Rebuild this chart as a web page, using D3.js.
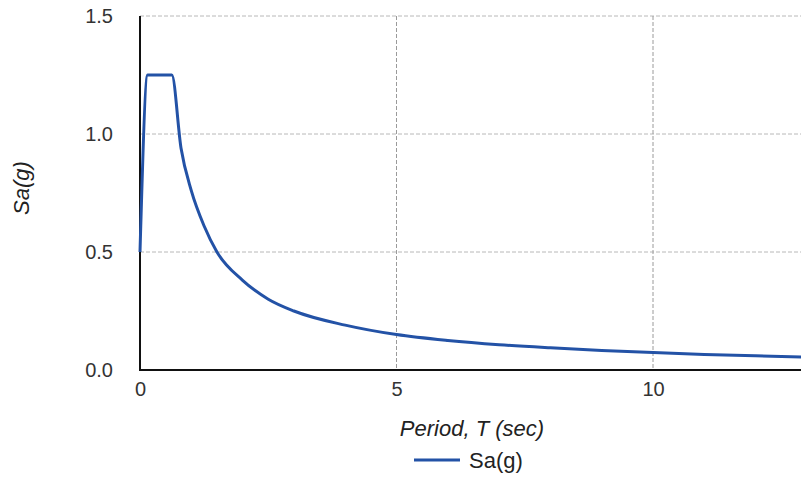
<!DOCTYPE html>
<html>
<head>
<meta charset="utf-8">
<script src="https://cdn.jsdelivr.net/npm/d3@7"></script>
<style>
  body { margin: 0; background: #fff; }
  svg { display: block; font-family: "Liberation Sans", Arial, sans-serif; }
</style>
</head>
<body>
<div id="chart"></div>
<script>
"use strict";

// values
const periods = [0, 0.15, 0.62, 0.8, 1.0, 1.25, 1.5, 2, 2.5, 3, 4, 5, 6, 7, 8, 9, 10, 11, 12, 13, 14, 15];
const saValues = [0.5, 1.25, 1.25, 0.94, 0.76, 0.61, 0.5, 0.38, 0.3, 0.25, 0.19, 0.15, 0.125, 0.107, 0.094, 0.083, 0.074, 0.066, 0.06, 0.055, 0.051, 0.048];
const xTicks = [0, 5, 10];
const yTicks = [0.0, 0.5, 1.0, 1.5];
const seriesName = "Sa(g)";

const msm = {
    width: 801,
    height: 479,
    left: 140,
    top: 16,
    bottom: 370,
    pxPerSec: 51.3
}

const svg = d3.select("#chart")
    .append("svg")
    .attr("width", msm.width)
    .attr("height", msm.height);

const xScale = d3.scaleLinear()
    .domain([0, 15])
    .range([msm.left, msm.left + 15 * msm.pxPerSec]);

const yScale = d3.scaleLinear()
    .domain([0, 1.5])
    .range([msm.bottom, msm.top]);

// grid
svg.append("g")
    .selectAll("line")
    .data(yTicks.filter(d => d > 0))
    .enter()
    .append("line")
    .attr("x1", msm.left)
    .attr("x2", msm.width)
    .attr("y1", d => yScale(d))
    .attr("y2", d => yScale(d))
    .attr("stroke", "#b8b8b8")
    .attr("stroke-width", 1)
    .attr("stroke-dasharray", "4,2");

svg.append("g")
    .selectAll("line")
    .data(xTicks.filter(d => d > 0))
    .enter()
    .append("line")
    .attr("x1", d => xScale(d))
    .attr("x2", d => xScale(d))
    .attr("y1", msm.top)
    .attr("y2", msm.bottom)
    .attr("stroke", "#9a9a9a")
    .attr("stroke-width", 1)
    .attr("stroke-dasharray", "4,2");

// axes
const xAxis = d3.axisBottom(xScale).tickValues(xTicks).tickSize(0).tickPadding(12).tickFormat(d3.format("d"));
const gx = svg.append("g")
    .attr("transform", "translate(0," + msm.bottom + ")")
    .call(xAxis);
gx.select(".domain").remove();
gx.selectAll("text").style("font-size", "20px").attr("fill", "#333");

const yAxis = d3.axisLeft(yScale).tickValues(yTicks).tickSize(0).tickPadding(27).tickFormat(d3.format(".1f"));
const gy = svg.append("g")
    .attr("transform", "translate(" + msm.left + ",0)")
    .call(yAxis);
gy.select(".domain").remove();
gy.selectAll("text").style("font-size", "20px").attr("fill", "#333");

svg.append("line")
    .attr("x1", msm.left)
    .attr("x2", msm.width)
    .attr("y1", msm.bottom)
    .attr("y2", msm.bottom)
    .attr("stroke", "#111")
    .attr("stroke-width", 2);

svg.append("line")
    .attr("x1", msm.left)
    .attr("x2", msm.left)
    .attr("y1", msm.top)
    .attr("y2", msm.bottom + 1)
    .attr("stroke", "#111")
    .attr("stroke-width", 2);

// curve
const pts = periods.map((t, i) => ({ t: t, sa: saValues[i] }));
svg.append("path")
    .datum(pts)
    .attr("fill", "none")
    .attr("stroke", "#2352a6")
    .attr("stroke-width", 3)
    .attr("stroke-linejoin", "round")
    .attr("d", d3.line()
        .x(d => xScale(d.t))
        .y(d => yScale(d.sa))
        .curve(d3.curveMonotoneX));

// labels
svg.append("text")
    .attr("x", 472)
    .attr("y", 436)
    .attr("text-anchor", "middle")
    .style("font-size", "22px")
    .style("font-style", "italic")
    .attr("fill", "#222")
    .text("Period, T (sec)");

svg.append("text")
    .attr("transform", "translate(29,188) rotate(-90)")
    .attr("text-anchor", "middle")
    .style("font-size", "22px")
    .style("font-style", "italic")
    .attr("fill", "#222")
    .text("Sa(g)");

// legend
svg.append("line")
    .attr("x1", 414)
    .attr("x2", 460)
    .attr("y1", 460)
    .attr("y2", 460)
    .attr("stroke", "#2352a6")
    .attr("stroke-width", 3);

svg.append("text")
    .attr("x", 469)
    .attr("y", 468)
    .style("font-size", "22px")
    .attr("fill", "#222")
    .text(seriesName);
</script>
</body>
</html>
